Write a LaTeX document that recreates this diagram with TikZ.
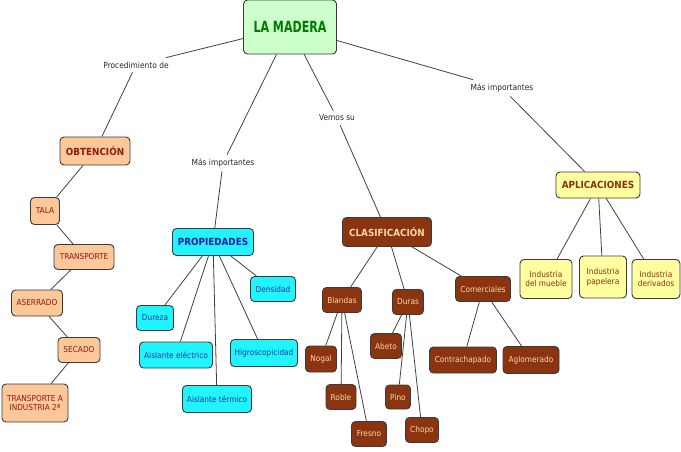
\documentclass[tikz,border=0pt]{standalone}
\usepackage{fontspec}
\setmainfont{DejaVu Sans Condensed}
\definecolor{edgec}{HTML}{404040}
\definecolor{bordc}{HTML}{3A3A3A}
\definecolor{greenf}{HTML}{CCFFCC}
\definecolor{greent}{HTML}{007A00}
\definecolor{peachf}{HTML}{FCC89A}
\definecolor{redt}{HTML}{8E1A10}
\definecolor{cyanf}{HTML}{22F4FF}
\definecolor{bluet}{HTML}{1A1AB0}
\definecolor{bluet2}{HTML}{1A3A9A}
\definecolor{brownf}{HTML}{8A3510}
\definecolor{brownt}{HTML}{FFD6A8}
\definecolor{yellowf}{HTML}{FFFFA0}
\definecolor{yellowt}{HTML}{8B3010}
\tikzset{
  box/.style={draw=bordc, line width=0.9pt, rounded corners=4pt, inner sep=1pt, align=center, font=\fontsize{8.2}{9.5}\selectfont},
  root/.style={box, fill=greenf, text=greent, font=\fontsize{14}{16}\selectfont\bfseries},
  obt/.style={box, fill=peachf, text=redt},
  prop/.style={box, fill=cyanf, text=bluet2},
  clas/.style={box, fill=brownf, text=brownt},
  apl/.style={box, fill=yellowf, text=yellowt},
  bigt/.style={font=\fontsize{9.8}{11}\selectfont\bfseries},
  lab/.style={inner sep=4pt, font=\fontsize{8.3}{9.5}\selectfont, text=black!85},
  conn/.style={draw=edgec, line width=0.8pt}
}
\begin{document}
\begin{tikzpicture}[x=1pt,y=-1pt]
\useasboundingbox (0,0) rectangle (681,451);
% root
\node[root, minimum width=93pt, minimum height=54pt] (madera) at (290,27) {\scalebox{0.88}[1.1]{LA MADERA}};
% labels
\node[lab] (lproc) at (136,65) {Procedimiento de};
\node[lab] (lmasR) at (502,88) {Más importantes};
\node[lab] (lvem) at (337,118) {Vemos su};
\node[lab] (lmasL) at (223,163) {Más importantes};
% obtencion
\node[obt, bigt, minimum width=70pt, minimum height=28pt] (obt) at (95,151) {OBTENCIÓN};
\node[obt, minimum width=29pt, minimum height=27pt] (tala) at (45,211) {TALA};
\node[obt, minimum width=60pt, minimum height=25pt] (transp) at (84,257) {TRANSPORTE};
\node[obt, minimum width=51pt, minimum height=26pt] (aserr) at (37,303) {ASERRADO};
\node[obt, minimum width=42pt, minimum height=25pt] (secado) at (79,350) {SECADO};
\node[obt, minimum width=66pt, minimum height=38pt] (transp2) at (35,403) {TRANSPORTE A\\INDUSTRIA 2ª};
% propiedades
\node[prop, bigt, minimum width=81pt, minimum height=27pt, text=bluet] (prop) at (213,242) {PROPIEDADES};
\node[prop, minimum width=45pt, minimum height=25pt] (dens) at (273,289) {Densidad};
\node[prop, minimum width=37pt, minimum height=25pt] (dur) at (155,318) {Dureza};
\node[prop, minimum width=73pt, minimum height=26pt] (aelec) at (176,355) {Aislante eléctrico};
\node[prop, minimum width=67pt, minimum height=27pt] (higro) at (264,353) {Higroscopicidad};
\node[prop, minimum width=69pt, minimum height=27pt] (aterm) at (217,399) {Aislante térmico};
% clasificacion
\node[clas, bigt, minimum width=89pt, minimum height=29pt] (clas) at (387,232) {CLASIFICACIÓN};
\node[clas, minimum width=39pt, minimum height=25pt] (bland) at (342,300) {Blandas};
\node[clas, minimum width=31pt, minimum height=25pt] (duras) at (408,302) {Duras};
\node[clas, minimum width=55pt, minimum height=25pt] (comer) at (483,289) {Comerciales};
\node[clas, minimum width=31pt, minimum height=26pt] (nogal) at (321,359) {Nogal};
\node[clas, minimum width=31pt, minimum height=25pt] (abeto) at (386,346) {Abeto};
\node[clas, minimum width=30pt, minimum height=25pt] (roble) at (341,397) {Roble};
\node[clas, minimum width=25pt, minimum height=24pt] (pino) at (398,397) {Pino};
\node[clas, minimum width=35pt, minimum height=25pt] (fresno) at (369,434) {Fresno};
\node[clas, minimum width=33pt, minimum height=25pt] (chopo) at (422,430) {Chopo};
\node[clas, minimum width=67pt, minimum height=26pt] (contra) at (463,360) {Contrachapado};
\node[clas, minimum width=56pt, minimum height=27pt] (aglo) at (531,360) {Aglomerado};
% aplicaciones
\node[apl, bigt, minimum width=84pt, minimum height=26pt] (apl) at (598,185) {APLICACIONES};
\node[apl, minimum width=52pt, minimum height=39pt] (imueb) at (546,279) {Industria\\del mueble};
\node[apl, minimum width=47pt, minimum height=42pt] (ipap) at (603,277) {Industria\\papelera};
\node[apl, minimum width=48pt, minimum height=39pt] (ideriv) at (656,279) {Industria\\derivados};
% connectors
\draw[conn] (madera) -- (lproc) -- (obt);
\draw[conn] (madera) -- (lmasL) -- (prop);
\draw[conn] (madera) -- (lvem) -- (clas);
\draw[conn] (madera) -- (lmasR) -- (apl);
\draw[conn] (obt) -- (tala);
\draw[conn] (tala) -- (transp);
\draw[conn] (transp) -- (aserr);
\draw[conn] (aserr) -- (secado);
\draw[conn] (secado) -- (transp2);
\draw[conn] (prop) -- (dens);
\draw[conn] (prop) -- (dur);
\draw[conn] (prop) -- (aelec);
\draw[conn] (prop) -- (higro);
\draw[conn] (prop) -- (aterm);
\draw[conn] (clas) -- (bland);
\draw[conn] (clas) -- (duras);
\draw[conn] (clas) -- (comer);
\draw[conn] (bland) -- (nogal);
\draw[conn] (bland) -- (roble);
\draw[conn] (bland) -- (fresno);
\draw[conn] (duras) -- (abeto);
\draw[conn] (duras) -- (pino);
\draw[conn] (duras) -- (chopo);
\draw[conn] (comer) -- (contra);
\draw[conn] (comer) -- (aglo);
\draw[conn] (apl) -- (imueb);
\draw[conn] (apl) -- (ipap);
\draw[conn] (apl) -- (ideriv);
\end{tikzpicture}
\end{document}
